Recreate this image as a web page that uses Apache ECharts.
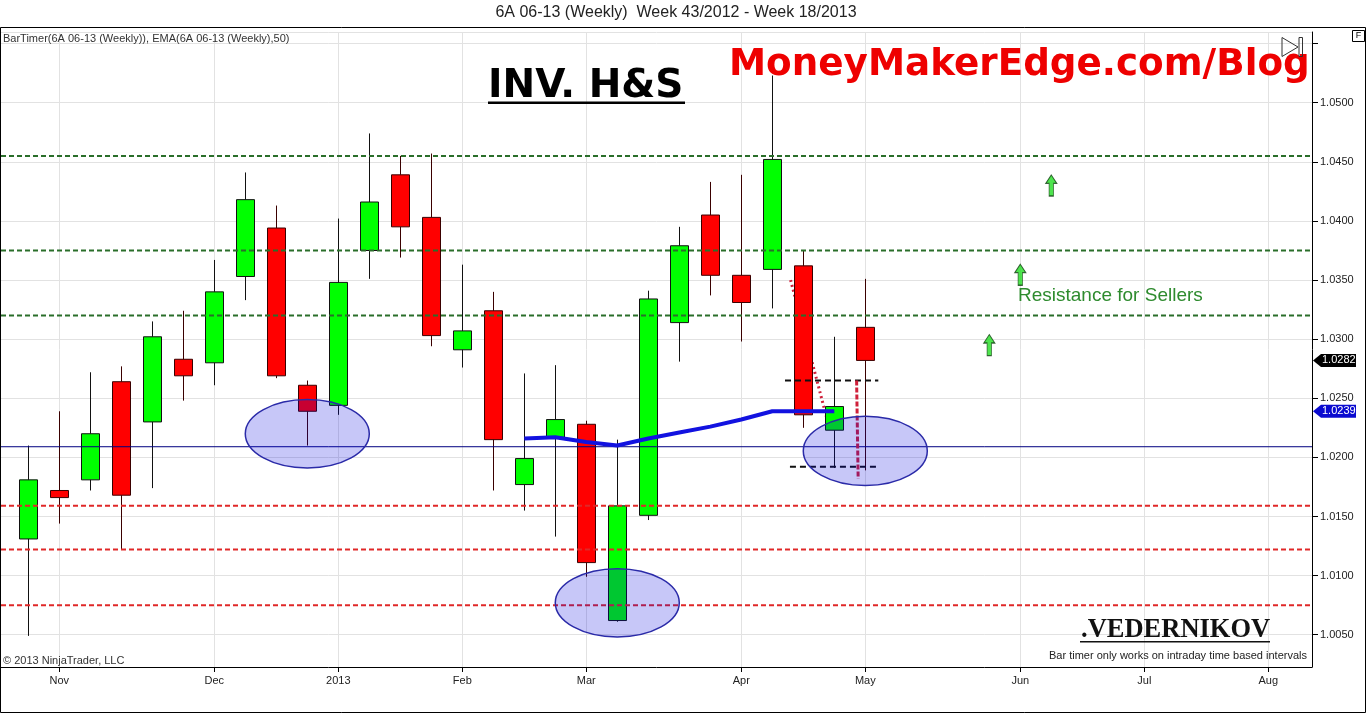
<!DOCTYPE html>
<html><head><meta charset="utf-8">
<script src="https://cdn.jsdelivr.net/npm/echarts@6/dist/echarts.min.js"></script>
<style>html,body{margin:0;padding:0;background:#fff}#c{width:1366px;height:713px}</style>
</head><body><div id="c"></div>
<script>
// Weekly bars, index 0 = week 43/2012 ... index 27 = week 18/2013
const opens  = [1.0131,1.0172,1.0181,1.0264,1.0230,1.0283,1.0280,1.0353,1.0394,1.0261,1.0244,1.0375,1.0439,1.0403,1.0291,1.0324,1.0177,1.0217,1.0228,1.0062,1.0151,1.0314,1.0405,1.0354,1.0359,1.0362,1.0223,1.0310];
const closes = [1.0181,1.0166,1.0220,1.0168,1.0302,1.0269,1.0340,1.0418,1.0269,1.0239,1.0348,1.0416,1.0395,1.0303,1.0307,1.0215,1.0199,1.0232,1.0111,1.0159,1.0334,1.0379,1.0354,1.0331,1.0452,1.0236,1.0243,1.0282];
const lows   = [1.0049,1.0144,1.0172,1.0122,1.0174,1.0248,1.0261,1.0333,1.0267,1.0210,1.0236,1.0351,1.0369,1.0294,1.0276,1.0172,1.0155,1.0133,1.0099,1.0061,1.0147,1.0281,1.0337,1.0298,1.0326,1.0225,1.0191,1.0189];
const highs  = [1.0210,1.0239,1.0272,1.0277,1.0315,1.0324,1.0367,1.0441,1.0413,1.0265,1.0402,1.0474,1.0455,1.0457,1.0363,1.0340,1.0271,1.0278,1.0231,1.0215,1.0341,1.0395,1.0433,1.0439,1.0523,1.0375,1.0302,1.0351];

const emaStart = 16;
const emaValues = [1.0216,1.0217,1.0213,1.0210,1.0216,1.0221,1.0226,1.0232,1.0239,1.0239,1.0239];

const monthTickIdx = [1,6,10,14,18,23,27,32,36,40];
const monthLabels  = ['Nov','Dec','2013','Feb','Mar','Apr','May','Jun','Jul','Aug'];

const resistLevels = [1.0455,1.0375,1.0320];
const supportLevels = [1.0159,1.0122,1.0075];
const neckLevel = 1.0209;

const shortLevels = [[24.41,27.42,1.0265],[24.57,27.47,1.0192]];
const dottedLine = [[24.59,1.0350],[25.75,1.0234]];
const dropLine = [[26.72,1.0265],[26.77,1.0182]];

const arrowPts = [[33,1.0430],[32,1.03545],[31,1.0295]];
const ellipses = [[9,1.0220,2.0,0.00289],[19,1.0077,2.0,0.00289],[27,1.02055,2.0,0.00292]];

const yMin = 1.00227, yMax = 1.05598, xMin = -0.88, xMax = 41.41;

const candleData = opens.map((o,i)=>[i,o,closes[i],lows[i],highs[i]]);
const emaData = emaValues.map((v,i)=>[emaStart+i,v]);
const tags = [[closes.length-1, closes[closes.length-1]],[emaStart+emaValues.length-1, emaValues[emaValues.length-1]]];
const tagColors = ['#000000','#0a0ad0'];

const chart = echarts.init(document.getElementById('c'), null, {renderer:'canvas'});
const F = 'Liberation Sans, Arial, sans-serif';

function hLine(v, style, z){
  return {type:'line', data:[[xMin,v],[xMax,v]], showSymbol:false, symbol:'none', silent:true, z:z||5, lineStyle:style};
}

const series = [
  {
    type:'candlestick', data:candleData, encode:{x:0,y:[1,2,3,4]}, barWidth:18, z:2,
    itemStyle:{color:'#00ff00',color0:'#ff0000',borderColor:'#111',borderColor0:'#3a0000',borderWidth:1}
  }
];
resistLevels.forEach(v=>series.push(hLine(v,{color:'#2a6e2a',width:2,type:[5,3]})));
supportLevels.forEach(v=>series.push(hLine(v,{color:'#e02828',width:2,type:[5,3]})));
series.push(hLine(neckLevel,{color:'#000080',width:1,type:'solid'}));
series.push({
  type:'line', data:emaData, z:6, showSymbol:false, symbol:'none',
  lineStyle:{color:'#1212e0',width:4}
});
shortLevels.forEach(s=>series.push({type:'line',data:[[s[0],s[2]],[s[1],s[2]]],showSymbol:false,symbol:'none',z:6,lineStyle:{color:'#111',width:2,type:[6,4]}}));
series.push({type:'line',data:dottedLine,showSymbol:false,symbol:'none',z:1,lineStyle:{color:'#d0203a',width:3,type:[2,3]}});
series.push({type:'line',data:dropLine,showSymbol:false,symbol:'none',z:6,lineStyle:{color:'#d0203a',width:3,type:[5,2]}});
series.push({
  type:'scatter', data:arrowPts, z:6,
  symbol:'path://M5,0 L10,8 L7,8 L7,20 L3,20 L3,8 L0,8 Z', symbolSize:[11,21],
  itemStyle:{color:'#22dd22',borderColor:'#124012',borderWidth:1}
});
series.push({
  type:'custom', data:ellipses, encode:{x:0,y:1}, z:8,
  renderItem:function(params, api){
    const c = api.coord([api.value(0), api.value(1)]);
    const s = api.size([api.value(2), api.value(3)]);
    return {type:'ellipse', shape:{cx:c[0],cy:c[1],rx:s[0],ry:s[1]},
      style:{fill:'rgba(0,0,222,0.22)',stroke:'#2a2aa8',lineWidth:1.5}};
  }
});
series.push({
  type:'custom', data:tags, encode:{x:0,y:1}, z:9, clip:false,
  renderItem:function(params, api){
    const y = api.coord([api.value(0), api.value(1)])[1];
    const x0 = params.coordSys.x + params.coordSys.width;
    const col = tagColors[params.dataIndex];
    return {type:'group', children:[
      {type:'polygon', shape:{points:[[x0+1,y],[x0+9,y-6.5],[x0+44,y-6.5],[x0+44,y+6.5],[x0+9,y+6.5]]}, style:{fill:col}},
      {type:'text', style:{text:api.value(1).toFixed(4), x:x0+10, y:y, fill:'#fff', font:'11px '+F, textVerticalAlign:'middle', textAlign:'left'}}
    ]};
  }
});

chart.setOption({
  animation:false,
  backgroundColor:'#ffffff',
  grid:{left:1,right:54,top:32,bottom:46,containLabel:false},
  xAxis:{
    type:'value', min:xMin, max:xMax,
    axisLine:{show:true,onZero:false,lineStyle:{color:'#000',width:1}},
    axisTick:{show:true,length:5,lineStyle:{color:'#000'},customValues:monthTickIdx},
    axisLabel:{customValues:monthTickIdx,color:'#222',fontFamily:F,fontSize:11,margin:8,
      formatter:function(v){const k=monthTickIdx.indexOf(Math.round(v));return k>=0?monthLabels[k]:'';}},
    splitLine:{show:true,lineStyle:{color:'#e2e2e2',width:1}}
  },
  yAxis:{
    type:'value', position:'right', min:yMin, max:yMax, minInterval:0.005, maxInterval:0.005, splitNumber:10,
    axisLine:{show:true,onZero:false,lineStyle:{color:'#000',width:1}},
    axisTick:{show:true,length:6,lineStyle:{color:'#000'}},
    axisLabel:{color:'#222',fontFamily:F,fontSize:11,margin:8,showMinLabel:false,showMaxLabel:false,
      formatter:function(v){ if (v<1.004||v>1.052) return ''; return v.toFixed(4);}},
    splitLine:{show:true,lineStyle:{color:'#e2e2e2',width:1}}
  },
  series:series,
  graphic:[
    {type:'rect',shape:{x:0.5,y:27.5,width:1365,height:685},style:{fill:null,stroke:'#000',lineWidth:1},z:100,silent:true},
    {type:'text',style:{text:'6A 06-13 (Weekly)  Week 43/2012 - Week 18/2013',x:676,y:13,font:'16px '+F,fill:'#222',textAlign:'center',textVerticalAlign:'middle'}},
    {type:'text',style:{text:'BarTimer(6A 06-13 (Weekly)), EMA(6A 06-13 (Weekly),50)',x:3,y:39,font:'11px '+F,fill:'#333',textAlign:'left',textVerticalAlign:'middle'},z:50},
    {type:'text',style:{text:'© 2013 NinjaTrader, LLC',x:3,y:661,font:'11px '+F,fill:'#333',textAlign:'left',textVerticalAlign:'middle'},z:50},
    {type:'text',style:{text:'Bar timer only works on intraday time based intervals',x:1307,y:656,font:'11px '+F,fill:'#222',textAlign:'right',textVerticalAlign:'middle'},z:50},
    {type:'text',style:{text:'INV. H&S',x:488,y:87,font:'bold 39px DejaVu Sans',fill:'#000',textAlign:'left',textVerticalAlign:'middle'},z:50},
    {type:'rect',shape:{x:488,y:101.5,width:197,height:2.5},style:{fill:'#000'},z:50},
    {type:'text',style:{text:'MoneyMakerEdge.com/Blog',x:729,y:65,font:'bold 37.3px DejaVu Sans',fill:'#ee0000',textAlign:'left',textVerticalAlign:'middle'},z:50},
    {type:'text',style:{text:'.VEDERNIKOV',x:1081,y:630,font:'bold 26.5px Liberation Serif',fill:'#111',textAlign:'left',textVerticalAlign:'middle'},z:50},
    {type:'rect',shape:{x:1080,y:641,width:190,height:1.5},style:{fill:'#111'},z:50},
    {type:'text',style:{text:'Resistance for Sellers',x:1018,y:296,font:'19px '+F,fill:'#2e8b2e',textAlign:'left',textVerticalAlign:'middle'},z:50},
    {type:'polygon',shape:{points:[[1282,37.5],[1298,47],[1282,56.5]]},style:{fill:null,stroke:'#333',lineWidth:1},z:50},
    {type:'rect',shape:{x:1299,y:37.5,width:3.5,height:19},style:{fill:null,stroke:'#333',lineWidth:1},z:50},
    {type:'rect',shape:{x:1352.5,y:30.5,width:12,height:11},style:{fill:'#fff',stroke:'#000',lineWidth:1},z:50},
    {type:'text',style:{text:'F',x:1358.5,y:36,font:'9px '+F,fill:'#000',textAlign:'center',textVerticalAlign:'middle'},z:51}
  ]
});
</script></body></html>
